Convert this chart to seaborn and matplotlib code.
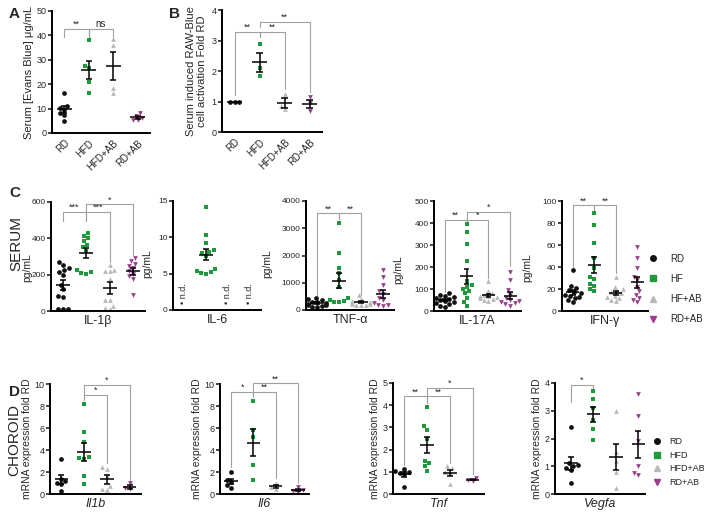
import numpy as np
import pandas as pd
import matplotlib
matplotlib.use("Agg")
import matplotlib.pyplot as plt
import seaborn as sns
from matplotlib.lines import Line2D

sns.set_style("ticks")
plt.rcParams['font.family'] = ['Liberation Sans', 'DejaVu Sans']

groups = ["RD", "HFD", "HFD+AB", "RD+AB"]
legend_C = ["RD", "HF", "HF+AB", "RD+AB"]
legend_D = ["RD", "HFD", "HFD+AB", "RD+AB"]
colors = ["#111111", "#1e9a3c", "#b8b8b8", "#9a3c8c"]
markers = ["o", "s", "^", "v"]

# ---- Panel A: Serum Evans Blue (ug/mL)
A_RD = [16.5, 11.2, 10.3, 9.5, 8.2, 7.2, 4.8]
A_HFD = [38, 27.5, 26.5, 21, 16.5]
A_HFDAB = [38.5, 36, 18.5, 16.5]
A_RDAB = [8, 7, 6.2, 5.2, 5.5]

# ---- Panel B: RAW-Blue activation fold RD
B_RD = [1.0, 1.0, 1.0]
B_HFD = [2.9, 2.1, 1.85]
B_HFDAB = [1.25, 0.85, 0.75]
B_RDAB = [1.15, 0.95, 0.7]

# ---- Panel C: serum cytokines (pg/mL)
IL1B_RD = [270, 255, 235, 225, 215, 200, 145, 120, 80, 75, 10, 10, 10]
IL1B_HFD = [430, 415, 400, 385, 365, 350, 330, 225, 215, 210, 205]
IL1B_HFDAB = [255, 228, 222, 218, 175, 62, 58, 30, 18, 10]
IL1B_RDAB = [290, 275, 260, 250, 235, 220, 205, 190, 175, 90]

IL6_HFD = [14.2, 10.3, 9.2, 8.2, 8.0, 7.8, 7.5, 5.6, 5.4, 5.2, 5.1, 5.0]

TNF_RD = [450, 400, 350, 300, 280, 250, 230, 200, 180, 150, 120, 100]
TNF_HFD = [3180, 2100, 1530, 1350, 1100, 850, 430, 380, 330, 300, 280]
TNF_HFDAB = [550, 400, 320, 280, 250, 230, 210, 200, 190, 180]
TNF_RDAB = [1450, 1200, 900, 700, 600, 450, 350, 250, 200, 180, 150]

IL17_RD = [80, 75, 70, 65, 60, 55, 50, 45, 40, 35, 30, 25, 20]
IL17_HFD = [395, 360, 305, 228, 135, 120, 110, 100, 90, 80, 60, 40, 22]
IL17_HFDAB = [135, 90, 80, 75, 70, 68, 65, 60, 55, 50, 45]
IL17_RDAB = [178, 140, 95, 75, 60, 50, 45, 40, 35, 30, 25]

IFN_RD = [37, 23, 21, 19, 17, 16, 15, 14, 13, 12, 10, 8]
IFN_HFD = [89, 78, 62, 48, 39, 31, 29, 25, 23, 20, 18]
IFN_HFDAB = [31, 22, 20, 18, 17, 16, 14, 13, 12, 10, 9]
IFN_RDAB = [58, 48, 39, 31, 28, 22, 18, 15, 12, 10, 8]

# ---- Panel D: choroid mRNA fold RD
IL1B_m_RD = [3.15, 1.4, 1.2, 1.0, 0.9, 0.3]
IL1B_m_HFD = [8.15, 5.6, 4.7, 3.4, 3.3, 3.2, 1.6, 0.9]
IL1B_m_HFDAB = [2.5, 2.3, 1.6, 0.7, 0.5, 0.35]
IL1B_m_RDAB = [1.0, 0.55, 0.45]

IL6_m_RD = [2.0, 1.3, 1.1, 0.8, 0.55]
IL6_m_HFD = [8.5, 5.8, 5.2, 2.6, 1.3]
IL6_m_HFDAB = [1.0, 0.65, 0.45]
IL6_m_RDAB = [0.65, 0.35, 0.25, 0.2]

TNF_m_RD = [1.12, 1.05, 1.0, 0.95, 0.9, 0.33]
TNF_m_HFD = [3.9, 3.05, 2.9, 2.5, 1.5, 1.4, 1.25, 1.05]
TNF_m_HFDAB = [1.25, 1.15, 1.0, 0.95, 0.45]
TNF_m_RDAB = [0.72, 0.65, 0.58]

VEGFA_m_RD = [2.4, 1.1, 1.05, 1.0, 0.92, 0.85, 0.4]
VEGFA_m_HFD = [3.72, 3.43, 3.1, 2.67, 2.35, 1.95]
VEGFA_m_HFDAB = [3.0, 1.5, 1.2, 0.8, 0.2]
VEGFA_m_RDAB = [3.6, 2.8, 1.9, 1.0, 0.75, 0.7]

# significance annotations: (group i, group j, level, leg-bottom i, leg-bottom j, label)
sig_A = [(0, 1, 42.6, 39.5, 39.5, "**"), (1, 2, 42.6, 39.5, 39.5, "ns")]
sig_B = [(0, 1, 3.29, 1.2, 3.12, "**"), (1, 2, 3.29, 3.12, 1.4, "**"), (1, 3, 3.62, 3.45, 1.3, "**")]
sig_IL1B = [(0, 1, 545, 495, 495, "***"), (1, 2, 545, 495, 270, "***"), (1, 3, 587, 545, 310, "*")]
sig_TNF = [(0, 1, 3550, 550, 3330, "**"), (1, 2, 3550, 3330, 560, "**")]
sig_IL17 = [(0, 1, 413, 85, 400, "**"), (1, 2, 413, 400, 150, "*"), (1, 3, 451, 413, 205, "*")]
sig_IFN = [(0, 1, 96, 40, 92, "**"), (1, 2, 96, 92, 35, "**")]
sig_Il1b = [(1, 2, 9.0, 8.55, 2.8, "*"), (1, 3, 9.9, 8.55, 1.3, "*")]
sig_Il6 = [(0, 1, 9.3, 2.5, 8.85, "*"), (1, 2, 9.3, 8.85, 1.5, "**"), (1, 3, 10.05, 9.3, 1.0, "**")]
sig_Tnf = [(0, 1, 4.4, 1.3, 4.1, "**"), (1, 2, 4.4, 4.1, 1.4, "**"), (1, 3, 4.77, 4.4, 0.9, "*")]
sig_Vegfa = [(0, 1, 3.94, 3.3, 3.8, "*")]

W, H = 708, 515
fig = plt.figure(figsize=(W / 100, H / 100), dpi=100)


def add_ax(l, t, r, b):
    return fig.add_axes([l / W, 1 - b / H, (r - l) / W, (b - t) / H])


def panel(ax, data, ylim, yticks, xlim=(-0.5, 3.5), size=3.4, tick_fs=6.5, sig=(), star_fs=6.5):
    for i, vals in enumerate(data):
        if vals is None or len(vals) == 0:
            continue
        df = pd.DataFrame({"g": [groups[i]] * len(vals), "v": vals})
        sns.swarmplot(data=df, x="g", y="v", order=groups, color=colors[i],
                      marker=markers[i], size=size, linewidth=0, ax=ax, zorder=2,
                      warn_thresh=1.0)
        m = float(np.mean(vals))
        s = float(np.std(vals, ddof=1) / np.sqrt(len(vals))) if len(vals) > 1 else 0
        ax.hlines(m, i - 0.3, i + 0.3, color="k", lw=1.1, zorder=4)
        if s > 0:
            ax.vlines(i, m - s, m + s, color="k", lw=1.1, zorder=4)
            ax.hlines([m - s, m + s], i - 0.13, i + 0.13, color="k", lw=1.1, zorder=4)
    for (i, j, lvl, bi, bj, lab) in sig:
        ax.plot([i, i, j, j], [bi, lvl, lvl, bj], color="#a0a0a0", lw=0.8,
                clip_on=False, zorder=1)
        ax.text((i + j) / 2, lvl, lab, ha="center", va="bottom",
                fontsize=star_fs if lab != "ns" else 7, clip_on=False)
    ax.set_xlim(*xlim)
    ax.set_ylim(*ylim)
    ax.set_yticks(yticks)
    ax.set_xlabel("")
    ax.set_ylabel("")
    sns.despine(ax=ax)
    for sp in ("left", "bottom"):
        ax.spines[sp].set_linewidth(1.4)
        ax.spines[sp].set_color("black")
    ax.tick_params(axis="y", length=3, width=1.2, labelsize=tick_fs, pad=1)
    ax.tick_params(axis="x", length=0)


# Panel A
axA = add_ax(52, 11, 150, 133)
panel(axA, [A_RD, A_HFD, A_HFDAB, A_RDAB], (0, 50), [0, 10, 20, 30, 40, 50], sig=sig_A)
axA.set_xticks(range(4))
axA.set_xticklabels(groups, rotation=45, ha="right", rotation_mode="anchor", fontsize=7)
axA.set_ylabel("Serum [Evans Blue] μg/mL", fontsize=8, labelpad=2)
fig.text(9 / W, 1 - 14 / H, "A", fontsize=11, fontweight="bold", va="center")

# Panel B
axB = add_ax(222, 10, 322, 132)
panel(axB, [B_RD, B_HFD, B_HFDAB, B_RDAB], (0, 4), [0, 1, 2, 3, 4], sig=sig_B)
axB.set_xticks(range(4))
axB.set_xticklabels(groups, rotation=45, ha="right", rotation_mode="anchor", fontsize=7)
axB.set_ylabel("Serum induced RAW-Blue\ncell activation Fold RD", fontsize=8, labelpad=3)
fig.text(169 / W, 1 - 14 / H, "B", fontsize=11, fontweight="bold", va="center")

# Panel C
c_specs = [
    ((51, 202, 145, 311), [IL1B_RD, IL1B_HFD, IL1B_HFDAB, IL1B_RDAB], (0, 600), [0, 200, 400, 600], "IL-1β", sig_IL1B, (-0.2, 0.40)),
    ((173, 201, 261, 310), [None, IL6_HFD, None, None], (0, 15), [0, 5, 10, 15], "IL-6", [], (-0.23, 0.43)),
    ((306, 201, 394, 310), [TNF_RD, TNF_HFD, TNF_HFDAB, TNF_RDAB], (0, 4000), [0, 1000, 2000, 3000, 4000], "TNF-α", sig_TNF, (-0.38, 0.43)),
    ((434, 201, 521, 311), [IL17_RD, IL17_HFD, IL17_HFDAB, IL17_RDAB], (0, 500), [0, 100, 200, 300, 400, 500], "IL-17A", sig_IL17, (-0.35, 0.38)),
    ((562, 201, 648, 311), [IFN_RD, IFN_HFD, IFN_HFDAB, IFN_RDAB], (0, 100), [0, 20, 40, 60, 80, 100], "IFN-γ", sig_IFN, (-0.34, 0.39)),
]
c_axes = []
for rect, data, ylim, yt, lab, sig, lpos in c_specs:
    ax = add_ax(*rect)
    panel(ax, data, ylim, yt, sig=sig, tick_fs=6)
    ax.set_xticks([])
    ax.set_xlabel(lab, fontsize=9, labelpad=3)
    ax.set_ylabel("pg/mL", fontsize=7.5)
    ax.yaxis.set_label_coords(*lpos)
    c_axes.append(ax)
for k in (0, 2, 3):
    c_axes[1].text(k, 0.8, "• n.d.", rotation=90, ha="center", va="bottom", fontsize=6.5)
fig.text(9 / W, 1 - 193 / H, "C", fontsize=11, fontweight="bold", va="center")
fig.text(16 / W, 1 - 244 / H, "SERUM", fontsize=11, rotation=90, ha="center", va="center")

handles_C = [Line2D([], [], marker=markers[i], color=colors[i], linestyle="", markersize=4)
             for i in range(4)]
fig.legend(handles_C, legend_C, loc="center left", bbox_to_anchor=(648 / W, 1 - 289 / H),
           frameon=False, fontsize=7, handlelength=1.0, handletextpad=1.3,
           labelspacing=1.05, borderpad=0, borderaxespad=0)

# Panel D
d_specs = [
    ((50, 384, 141, 494), [IL1B_m_RD, IL1B_m_HFD, IL1B_m_HFDAB, IL1B_m_RDAB], (0, 10), [0, 2, 4, 6, 8, 10], "Il1b", sig_Il1b, (-0.5, 3.5)),
    ((220, 384, 309, 494), [IL6_m_RD, IL6_m_HFD, IL6_m_HFDAB, IL6_m_RDAB], (0, 10), [0, 2, 4, 6, 8, 10], "Il6", sig_Il6, (-0.5, 3.5)),
    ((393, 383, 484, 494), [TNF_m_RD, TNF_m_HFD, TNF_m_HFDAB, TNF_m_RDAB], (0, 5), [0, 1, 2, 3, 4, 5], "Tnf", sig_Tnf, (-0.5, 3.5)),
    ((555, 383, 645, 494), [VEGFA_m_RD, VEGFA_m_HFD, VEGFA_m_HFDAB, VEGFA_m_RDAB], (0, 4), [0, 1, 2, 3, 4], "Vegfa", sig_Vegfa, (-0.7, 3.3)),
]
for rect, data, ylim, yt, lab, sig, xl in d_specs:
    ax = add_ax(*rect)
    panel(ax, data, ylim, yt, xlim=xl, sig=sig, tick_fs=6.5)
    ax.set_xticks([])
    ax.set_xlabel(lab, fontsize=9, fontstyle="italic", labelpad=3)
    ax.set_ylabel("mRNA expression fold RD", fontsize=7.5, labelpad=2)
fig.text(9 / W, 1 - 392 / H, "D", fontsize=11, fontweight="bold", va="center")
fig.text(14 / W, 1 - 440 / H, "CHOROID", fontsize=11, rotation=90, ha="center", va="center")

handles_D = [Line2D([], [], marker=markers[i], color=colors[i], linestyle="", markersize=4)
             for i in range(4)]
fig.legend(handles_D, legend_D, loc="center left", bbox_to_anchor=(652 / W, 1 - 462 / H),
           frameon=False, fontsize=6.5, handlelength=1.0, handletextpad=0.9,
           labelspacing=0.5, borderpad=0, borderaxespad=0)

fig.savefig("out.png", dpi=100)
